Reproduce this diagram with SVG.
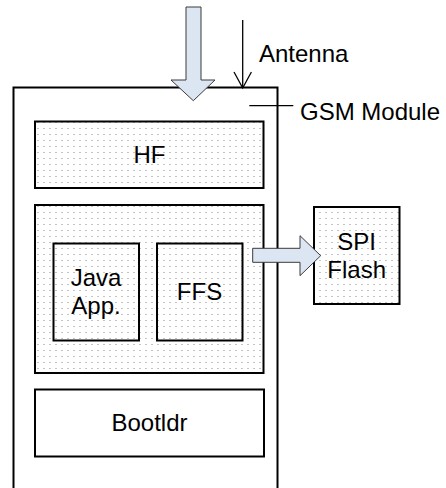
<svg xmlns="http://www.w3.org/2000/svg" width="446" height="488" viewBox="0 0 446 488">
  <style>
    .box { stroke: #000; stroke-width: 2; }
    .dots { fill: url(#dotpat); }
    .plain { fill: #fff; }
    .lbl { font-family: "Liberation Sans", Arial, sans-serif; font-size: 24px; fill: #000; }
    .mid { text-anchor: middle; }
    .thin { stroke: #000; stroke-width: 1.3; fill: none; }
    .blk { fill: #dce6f2; stroke: #3a3a3a; stroke-width: 1; stroke-linejoin: miter; }
  </style>
  <defs>
    <pattern id="dotpat" patternUnits="userSpaceOnUse" x="0" y="0" width="6" height="6">
      <rect x="0" y="0" width="6" height="6" fill="#fff"/>
      <rect x="1" y="2" width="2" height="1" fill="#c4c4c4"/>
    </pattern>
  </defs>
  <rect width="446" height="488" fill="#fff"/>

  <g id="gsm-module">
    <rect class="box" x="13.5" y="87.5" width="264" height="420" fill="#fff"/>
  </g>

  <g id="hf">
    <rect class="box dots" x="35" y="121.5" width="228.5" height="66.5"/>
    <text class="lbl mid" x="149.5" y="163">HF</text>
  </g>

  <g id="mem">
    <rect class="box dots" x="35" y="205" width="228.5" height="168"/>
  </g>

  <g id="java-app">
    <rect class="box dots" x="53.5" y="243.5" width="85.5" height="97"/>
    <text class="lbl mid" x="96" y="286">Java</text>
    <text class="lbl mid" x="96" y="313.5">App.</text>
  </g>

  <g id="ffs">
    <rect class="box dots" x="157" y="243.5" width="85.5" height="97"/>
    <text class="lbl mid" x="199.5" y="299.5">FFS</text>
  </g>

  <g id="bootldr">
    <rect class="box plain" x="35" y="389.5" width="229" height="67"/>
    <text class="lbl mid" x="149.5" y="431">Bootldr</text>
  </g>

  <g id="spi-flash">
    <rect class="box dots" x="314" y="207" width="85.5" height="97"/>
    <text class="lbl mid" x="356.7" y="249.5">SPI</text>
    <text class="lbl mid" x="356.7" y="277.5">Flash</text>
  </g>

  <g id="connectors">
    <polygon class="blk" points="186,7 201,7 201,80 215,80 193.3,100.7 171,80 186,80"/>
    <polygon class="blk" points="252.7,248.3 300,248.3 300,235.7 320.7,255.7 300,275.7 300,262.3 252.7,262.3"/>
    <line class="thin" x1="242.7" y1="20" x2="242.7" y2="88"/>
    <polyline class="thin" points="234,72 242.7,88 251.4,72"/>
    <line class="thin" x1="249.3" y1="105.7" x2="293.3" y2="105.7"/>
  </g>

  <g id="labels">
    <text class="lbl" x="259" y="62">Antenna</text>
    <text class="lbl" x="300" y="119.5">GSM Module</text>
  </g>
</svg>
